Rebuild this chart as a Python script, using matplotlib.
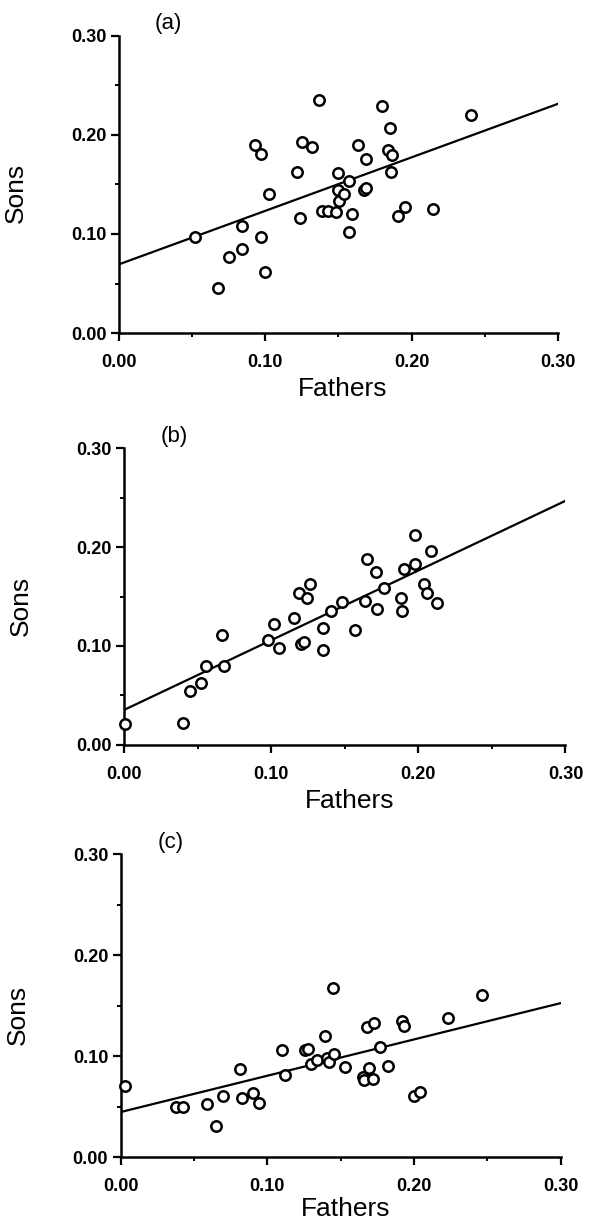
import numpy as np
import matplotlib.pyplot as plt
from matplotlib.ticker import MultipleLocator, FormatStrFormatter

# Panel (a)
a_fathers = [0.052, 0.0675, 0.0755, 0.084, 0.084, 0.093, 0.0974, 0.0974, 0.100, 0.1027,
             0.122, 0.124, 0.125, 0.132, 0.137, 0.139, 0.1426, 0.1485, 0.150, 0.150,
             0.1506, 0.154, 0.157, 0.157, 0.159, 0.1636, 0.1675, 0.169, 0.169, 0.180,
             0.184, 0.1855, 0.186, 0.1866, 0.1905, 0.1958, 0.2145, 0.241]
a_sons = [0.0966, 0.046, 0.0764, 0.108, 0.0845, 0.190, 0.181, 0.097, 0.062, 0.140,
          0.162, 0.116, 0.193, 0.188, 0.235, 0.123, 0.123, 0.122, 0.144, 0.161,
          0.133, 0.140, 0.153, 0.1016, 0.120, 0.190, 0.144, 0.1757, 0.146, 0.229,
          0.185, 0.207, 0.1626, 0.1797, 0.118, 0.1267, 0.125, 0.220]
a_line = (0.0694, 0.539)  # intercept, slope

# Panel (b)
b_fathers = [0.0005, 0.040, 0.045, 0.052, 0.0556, 0.0667, 0.068, 0.0978, 0.102, 0.105,
             0.1157, 0.1187, 0.120, 0.122, 0.124, 0.1266, 0.135, 0.135, 0.1405, 0.148,
             0.157, 0.164, 0.165, 0.171, 0.172, 0.1765, 0.188, 0.189, 0.190, 0.198,
             0.198, 0.204, 0.206, 0.2087, 0.2126]
b_sons = [0.0209, 0.0216, 0.054, 0.063, 0.080, 0.1116, 0.0795, 0.106, 0.1227, 0.0984,
          0.128, 0.154, 0.1025, 0.1038, 0.149, 0.163, 0.1186, 0.0964, 0.1355, 0.145,
          0.116, 0.146, 0.188, 0.1746, 0.137, 0.159, 0.149, 0.135, 0.178, 0.1827,
          0.2123, 0.163, 0.154, 0.1965, 0.143]
b_line = (0.0354, 0.705)

# Panel (c)
c_fathers = [0.003, 0.038, 0.0425, 0.059, 0.065, 0.070, 0.0814, 0.083, 0.090, 0.094,
             0.110, 0.112, 0.1255, 0.128, 0.130, 0.1337, 0.139, 0.1408, 0.142, 0.145,
             0.1455, 0.153, 0.165, 0.166, 0.168, 0.1694, 0.172, 0.173, 0.177, 0.182,
             0.1917, 0.193, 0.200, 0.204, 0.223, 0.246]
c_sons = [0.0704, 0.050, 0.0496, 0.053, 0.031, 0.060, 0.0875, 0.0585, 0.0638, 0.054,
          0.1057, 0.0816, 0.1057, 0.107, 0.0925, 0.0965, 0.120, 0.0984, 0.0938, 0.168,
          0.1017, 0.089, 0.079, 0.076, 0.129, 0.0885, 0.077, 0.133, 0.109, 0.090,
          0.135, 0.130, 0.0605, 0.064, 0.138, 0.161]
c_line = (0.0446, 0.36)

# label, x, y, line, axes rect, xlabel y offset
panels = [
    ("(a)", a_fathers, a_sons, a_line, [0.202, 0.728, 0.745, 0.243], -0.148),
    ("(b)", b_fathers, b_sons, b_line, [0.211, 0.392, 0.749, 0.242], -0.150),
    ("(c)", c_fathers, c_sons, c_line, [0.205, 0.0555, 0.747, 0.247], -0.133),
]

plt.rcParams['font.family'] = ['Liberation Sans', 'DejaVu Sans']

fig = plt.figure(figsize=(5.89, 12.25), dpi=100)

for label, xs, ys, (b0, b1), rect, xl_y in panels:
    ax = fig.add_axes(rect)
    ax.plot(xs, ys, 'o', mfc='white', mec='black', mew=1.8, ms=7.5, clip_on=False, zorder=3)
    lx = np.array([0.0, 0.30])
    ax.plot(lx, b0 + b1 * lx, color='black', lw=1.6, zorder=2)

    ax.set_xlim(0, 0.30)
    ax.set_ylim(0, 0.30)
    for s in ['top', 'right']:
        ax.spines[s].set_visible(False)
    for s in ['left', 'bottom']:
        ax.spines[s].set_linewidth(1.8)
    ax.xaxis.set_major_locator(MultipleLocator(0.10))
    ax.yaxis.set_major_locator(MultipleLocator(0.10))
    ax.xaxis.set_minor_locator(MultipleLocator(0.05))
    ax.yaxis.set_minor_locator(MultipleLocator(0.05))
    ax.xaxis.set_major_formatter(FormatStrFormatter('%.2f'))
    ax.yaxis.set_major_formatter(FormatStrFormatter('%.2f'))
    ax.tick_params(which='major', direction='out', length=6, width=1.6, labelsize=13)
    ax.tick_params(which='minor', direction='out', length=3, width=1.4)
    ax.tick_params(axis='x', which='major', pad=9)
    ax.tick_params(axis='y', which='major', pad=3)
    for t in ax.get_xticklabels() + ax.get_yticklabels():
        t.set_fontweight('bold')

    ax.set_xlabel("Fathers", fontsize=19)
    ax.set_ylabel("Sons", fontsize=19)
    ax.xaxis.set_label_coords(0.51, xl_y)
    ax.yaxis.set_label_coords(-0.207, 0.47)
    ax.text(0.113, 1.04, label, transform=ax.transAxes, fontsize=16,
            ha='center', va='center')

fig.savefig('out.png', dpi=100)
